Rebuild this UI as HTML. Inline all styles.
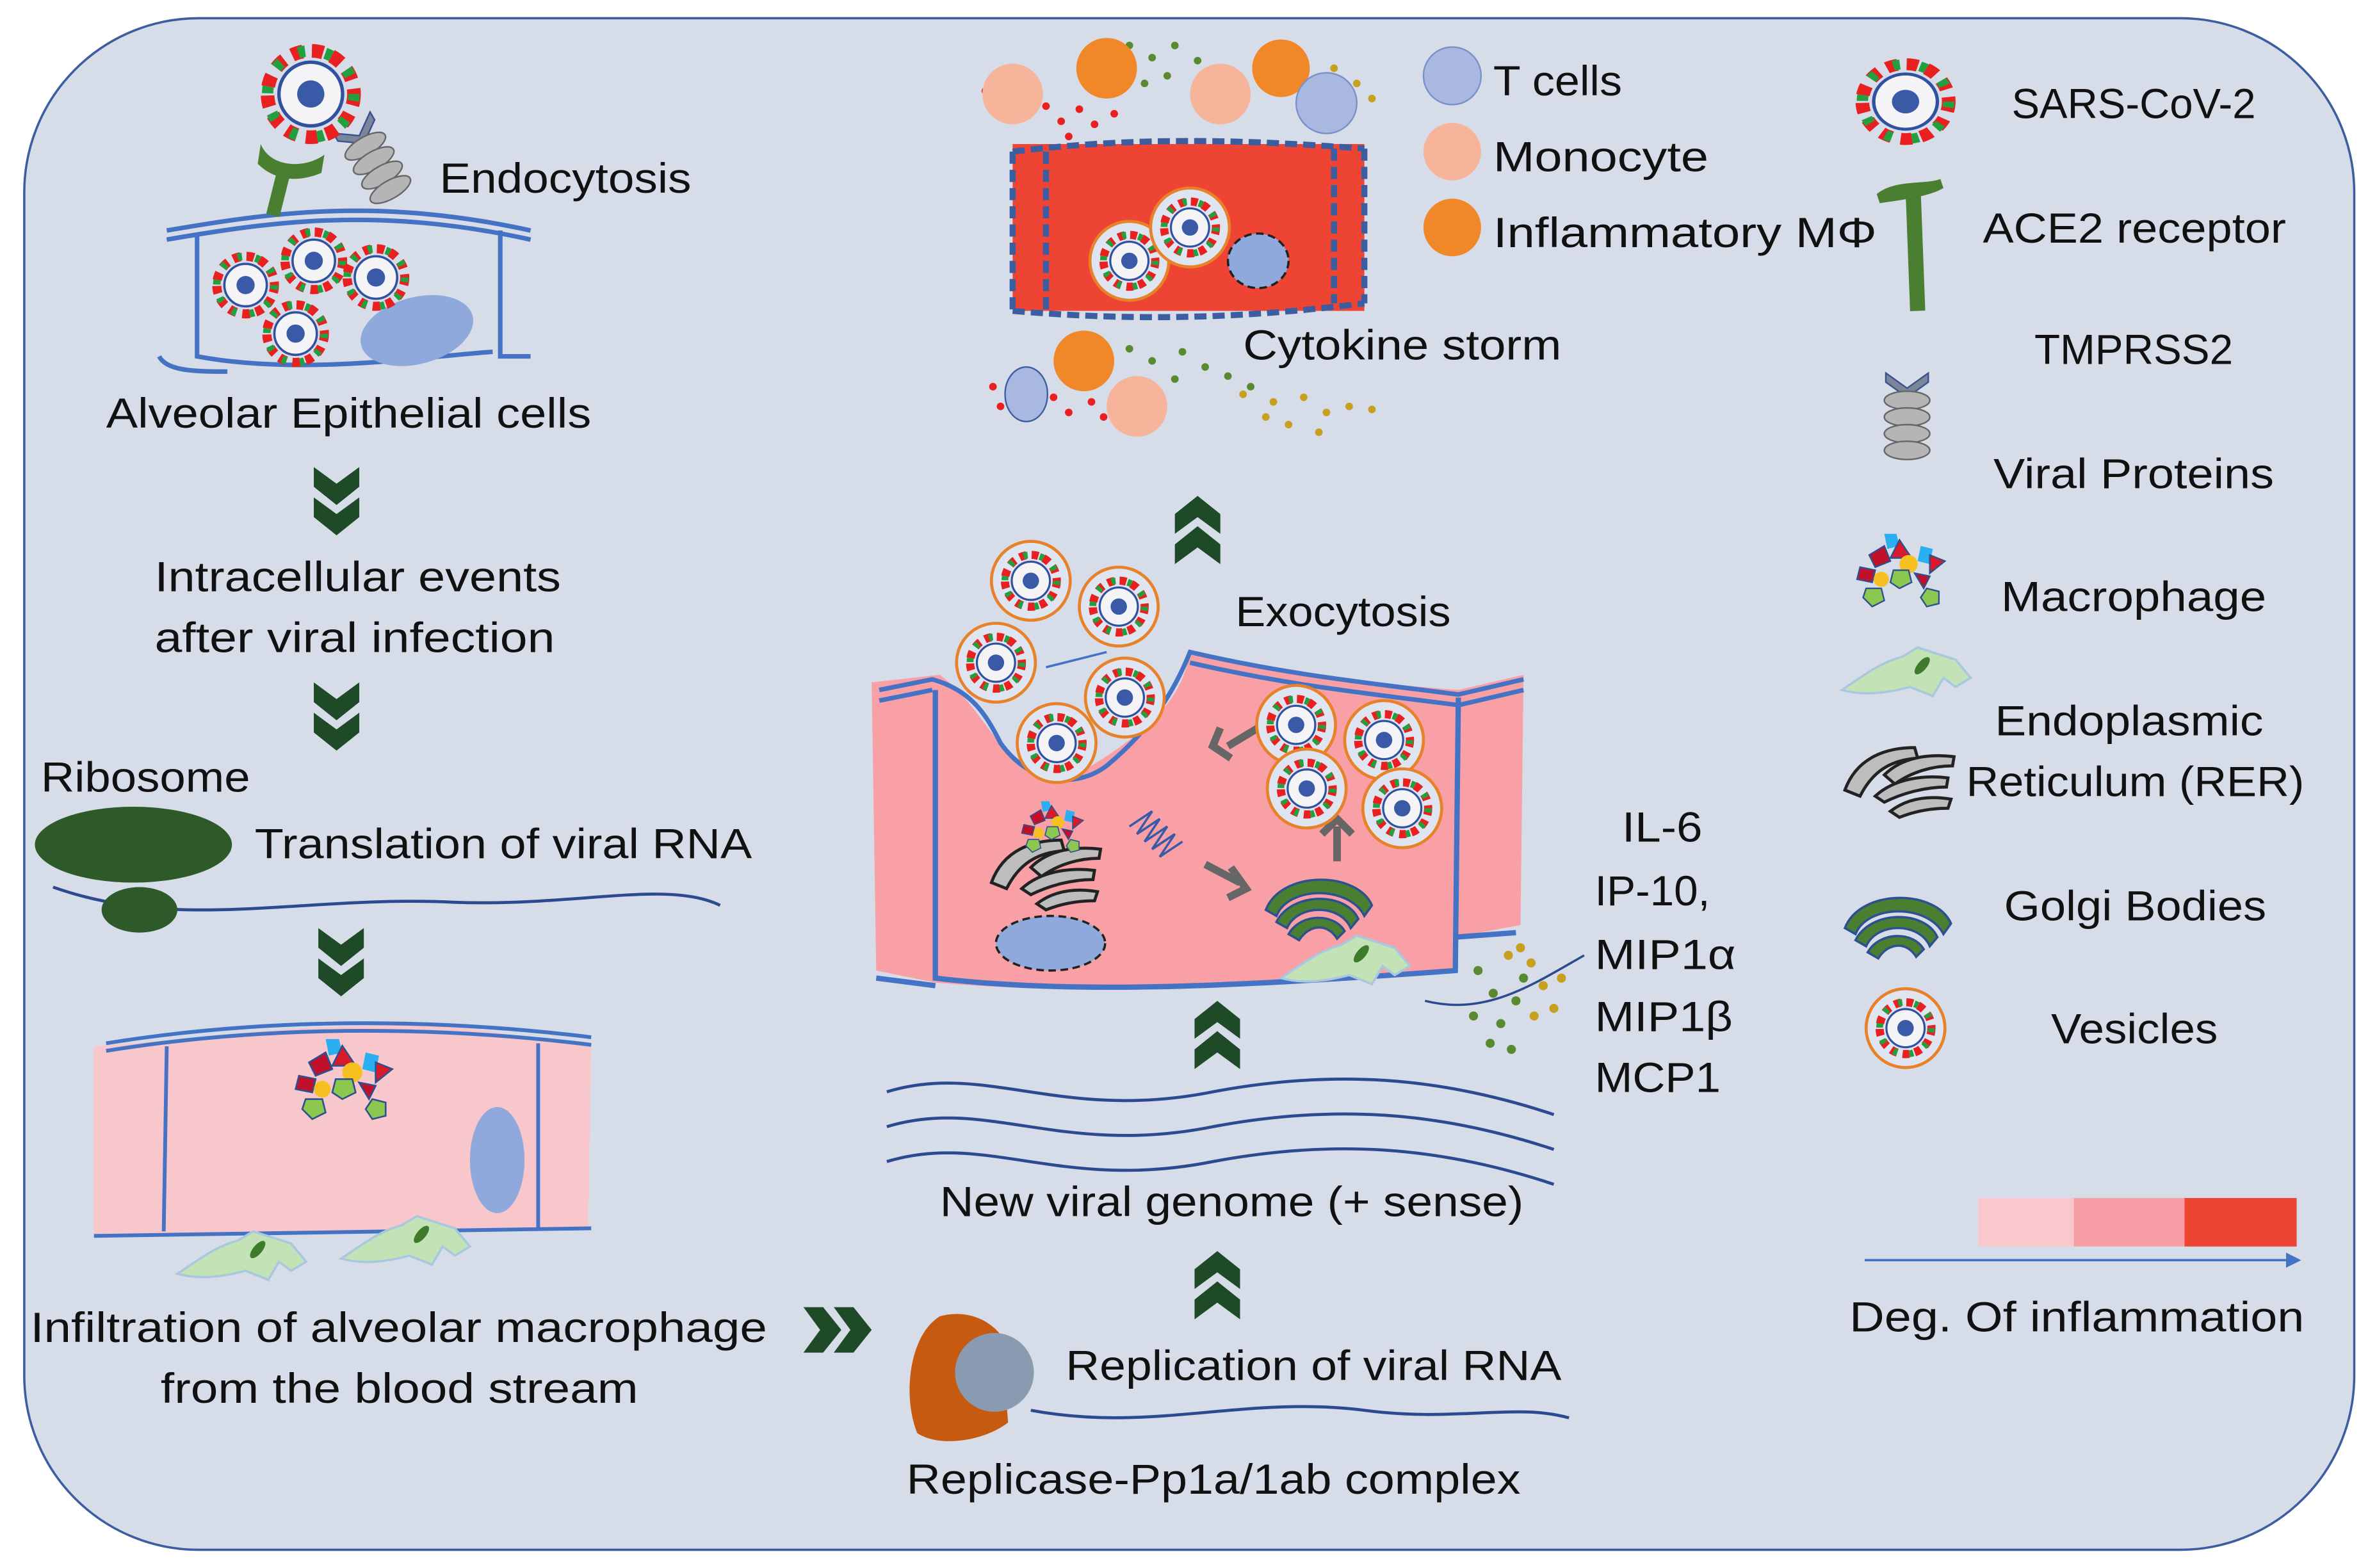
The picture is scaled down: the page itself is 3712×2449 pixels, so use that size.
<!DOCTYPE html>
<html><head><meta charset="utf-8"><style>
html,body{margin:0;padding:0;background:#fff;}
svg{display:block;}
text{font-family:"Liberation Sans",sans-serif;font-size:28px;fill:#111;}
</style></head><body>
<svg width="3712" height="2449" viewBox="0 0 1568 1034" preserveAspectRatio="none" xmlns="http://www.w3.org/2000/svg">
<defs>
<g id="vir">
<circle r="19" fill="none" stroke="#e82020" stroke-width="6" stroke-dasharray="5 4"/>
<circle r="19" fill="none" stroke="#22a040" stroke-width="5" stroke-dasharray="3 9"/>
<circle r="14" fill="#f4f4f6" stroke="#3050a0" stroke-width="1.5"/>
<circle r="6" fill="#3a5aa8"/>
</g>
<g id="ves">
<circle r="26" fill="#dfe5f0" stroke="#e8822a" stroke-width="2"/>
<use href="#vir" transform="scale(0.9)"/>
</g>
<g id="chev">
<path d="M-15,0 L0,11 L15,0 L15,13 L0,25 L-15,13 Z M-15,20 L0,31 L15,20 L15,33 L0,45 L-15,33 Z" fill="#1e4a28"/>
</g>
<g id="mac">
<path d="M-45,10 C-30,0 -20,-8 -5,-12 L5,-18 L30,-10 L40,2 L30,8 L22,2 L15,14 L0,8 C-15,12 -30,14 -45,10 Z" fill="#c3e2b5" stroke="#a9c8e0" stroke-width="1.5"/>
<ellipse cx="8" cy="-6" rx="3" ry="7" transform="rotate(40 8 -6)" fill="#3f7a2d"/>
</g>
<g id="golgi" fill="#4a7f32" stroke="#2d5090" stroke-width="1.5">
<path d="M-35,8 C-25,-18 25,-18 35,5 L30,12 C20,-8 -20,-8 -28,12 Z"/>
<path d="M-28,16 C-18,-4 18,-4 26,14 L21,20 C14,4 -14,4 -21,20 Z"/>
<path d="M-20,24 C-12,10 10,10 17,22 L12,27 C6,17 -6,17 -13,28 Z"/>
</g>
<g id="er" fill="#bdbdbd" stroke="#222" stroke-width="2">
<path d="M-38,14 C-30,-8 -10,-14 8,-14 L10,-7 C-8,-6 -20,2 -28,18 Z"/>
<path d="M-12,4 C0,-8 18,-10 34,-8 L33,-2 C20,-2 6,2 -5,10 Z"/>
<path d="M-18,18 C-5,6 15,4 30,6 L29,12 C15,12 0,16 -12,22 Z"/>
<path d="M-8,28 C5,18 20,18 32,20 L30,26 C18,26 8,28 -2,32 Z"/>
</g>
<g id="prot">
<polygon points="-12,-28 -4,-28 -2,-20 -10,-18" fill="#2ab0f0"/>
<polygon points="-22,-14 -12,-20 -8,-10 -18,-6" fill="#c0102a" stroke="#2d5090"/>
<polygon points="-2,-24 6,-12 -8,-12" fill="#d81a2a" stroke="#2d5090"/>
<circle cx="4" cy="-8" r="6" fill="#f5c020"/>
<polygon points="12,-20 20,-18 18,-8 10,-10" fill="#2ab0f0"/>
<polygon points="18,-14 28,-10 18,-2" fill="#d81a2a" stroke="#2d5090"/>
<polygon points="-28,-6 -18,-4 -20,4 -30,2" fill="#c0102a" stroke="#2d5090"/>
<circle cx="-14" cy="2" r="5" fill="#f5c020"/>
<polygon points="-6,-4 4,-4 6,4 -2,8 -8,4" fill="#8cc850" stroke="#2d5090"/>
<polygon points="8,-2 18,0 14,8" fill="#c0102a" stroke="#2d5090"/>
<polygon points="-24,8 -14,8 -12,16 -20,20 -26,14" fill="#8cc850" stroke="#2d5090"/>
<polygon points="16,8 24,10 24,18 16,20 12,14" fill="#8cc850" stroke="#2d5090"/>
</g>
<g id="tmp">
<path d="M-14,-36 L0,-26 L14,-36 L14,-30 L0,-20 L-14,-30Z" fill="#7a8699" stroke="#3a5090" stroke-width="1"/>
<ellipse cx="0" cy="-18" rx="15" ry="6" fill="#b5b5b5" stroke="#666"/>
<ellipse cx="0" cy="-7" rx="15" ry="6" fill="#b5b5b5" stroke="#666"/>
<ellipse cx="0" cy="4" rx="15" ry="6" fill="#b5b5b5" stroke="#666"/>
<ellipse cx="0" cy="15" rx="15" ry="6" fill="#b5b5b5" stroke="#666"/>
</g>
</defs>

<rect x="16" y="12" width="1537" height="1010" rx="115" ry="115" fill="#d6dde8" stroke="#3c5da0" stroke-width="1.5"/>

<!-- top-left cell -->
<path d="M110,152 C180,140 250,130 350,152 M110,158 C180,146 250,136 350,158" stroke="#4472c4" stroke-width="3" fill="none"/>
<path d="M130,155 L130,235 C200,248 280,235 325,232 M330,152 L330,235 L350,235 M105,235 C110,245 130,245 150,245" stroke="#4472c4" stroke-width="3" fill="none"/>
<ellipse cx="275" cy="218" rx="38" ry="22" transform="rotate(-15 275 218)" fill="#8fa9dc"/>
<use href="#vir" x="162" y="188"/><use href="#vir" x="207" y="172"/><use href="#vir" x="248" y="183"/><use href="#vir" x="195" y="220"/>
<path d="M180,142 L188,110" stroke="#4a7f32" stroke-width="9"/>
<path d="M172,95 C178,110 200,112 214,102 L212,114 C198,120 182,120 170,108 Z" fill="#4a7f32"/>
<g transform="translate(250,112) rotate(-30)"><use href="#tmp"/></g>
<g transform="translate(205,62) scale(1.5)"><use href="#vir"/></g>
<text x="290" y="127" textLength="166" lengthAdjust="spacingAndGlyphs">Endocytosis</text>
<text x="70" y="282" textLength="320" lengthAdjust="spacingAndGlyphs">Alveolar Epithelial cells</text>
<use href="#chev" x="222" y="308"/>
<text x="102" y="390" textLength="268" lengthAdjust="spacingAndGlyphs">Intracellular events</text>
<text x="102" y="430" textLength="264" lengthAdjust="spacingAndGlyphs">after viral infection</text>
<use href="#chev" x="222" y="450"/>
<text x="27" y="522" textLength="138" lengthAdjust="spacingAndGlyphs">Ribosome</text>
<path d="M35,585 C120,615 200,590 300,595 C380,598 440,580 475,597" stroke="#2d4a90" stroke-width="2" fill="none"/>
<ellipse cx="92" cy="600" rx="25" ry="15" fill="#2e5a2a"/>
<ellipse cx="88" cy="557" rx="65" ry="25" fill="#2e5a2a"/>
<text x="168" y="566" textLength="328" lengthAdjust="spacingAndGlyphs">Translation of viral RNA</text>
<use href="#chev" x="225" y="612"/>

<!-- cell 2 -->
<path d="M62,690 L110,686 C200,676 300,670 350,686 L390,688 L388,810 L62,815 Z" fill="#f7c7cb"/>
<path d="M70,688 C150,675 260,668 390,684 M70,693 C150,680 260,673 390,689 M110,690 L108,812 M355,688 L355,810 M62,815 L390,810" stroke="#4472c4" stroke-width="2.5" fill="none"/>
<ellipse cx="328" cy="765" rx="18" ry="35" fill="#8fa9dc"/>
<g transform="translate(228,716) scale(1.1)"><use href="#prot"/></g>
<use href="#mac" x="162" y="830"/><use href="#mac" x="270" y="820"/>
<text x="20" y="885" textLength="486" lengthAdjust="spacingAndGlyphs">Infiltration of alveolar macrophage</text>
<text x="106" y="925" textLength="315" lengthAdjust="spacingAndGlyphs">from the blood stream</text>
<g transform="translate(552,877) rotate(-90)"><use href="#chev" y="-22"/></g>

<!-- replicase -->
<path d="M680,930 C760,945 820,920 900,930 C960,938 1000,925 1035,935" stroke="#2d4a90" stroke-width="2" fill="none"/>
<path d="M620,868 C600,880 595,920 605,945 C620,955 650,950 665,938 L660,880 C650,868 635,864 620,868Z" fill="#c65a10"/>
<circle cx="656" cy="905" r="26" fill="#8a9ab0"/>
<text x="703" y="910" textLength="327" lengthAdjust="spacingAndGlyphs">Replication of viral RNA</text>
<text x="598" y="985" textLength="405" lengthAdjust="spacingAndGlyphs">Replicase-Pp1a/1ab complex</text>
<g transform="translate(803,870) scale(1,-1)"><use href="#chev"/></g>
<text x="620" y="802" textLength="385" lengthAdjust="spacingAndGlyphs">New viral genome (+ sense)</text>
<path d="M585,720 C650,700 700,740 800,720 C880,705 950,710 1025,735" stroke="#2d4a90" stroke-width="2" fill="none"/>
<path d="M585,743 C650,723 700,763 800,743 C880,728 950,733 1025,758" stroke="#2d4a90" stroke-width="2" fill="none"/>
<path d="M585,766 C650,746 700,786 800,766 C880,751 950,756 1025,781" stroke="#2d4a90" stroke-width="2" fill="none"/>
<g transform="translate(803,705) scale(1,-1)"><use href="#chev"/></g>

<!-- cell 3 -->
<path d="M575,450 L620,445 C640,460 650,480 660,490 C680,510 700,520 720,505 C760,480 780,460 785,430 C850,445 900,450 962,455 L1005,445 L1003,610 L960,618 L958,640 C800,655 700,655 617,648 L578,640 Z" fill="#f8a0a6"/>
<path d="M580,455 L615,448 C640,455 650,470 660,490 C680,518 710,520 730,505 C760,480 775,455 785,430 C850,445 900,450 962,458 L1005,448" stroke="#4472c4" stroke-width="3" fill="none"/>
<path d="M580,462 L615,455 M785,437 C850,452 900,457 962,465 L1005,455" stroke="#4472c4" stroke-width="3" fill="none"/>
<path d="M617,455 L617,645 C700,655 800,652 960,640 L962,460 M960,618 L1000,615 M578,645 L617,650" stroke="#4472c4" stroke-width="3.5" fill="none"/>
<ellipse cx="693" cy="622" rx="36" ry="18" fill="#8fa9dc" stroke="#222" stroke-width="1.5" stroke-dasharray="5 3"/>
<use href="#er" x="692" y="568"/>
<g transform="translate(695,548) scale(0.7)"><use href="#prot"/></g>
<path d="M745,545 l15,-10 l-10,15 l15,-10 l-10,15 l15,-10 l-10,15 M755,555 l15,-10 l-10,15 l15,-10 l-10,15 l15,-10" stroke="#3a5aa8" stroke-width="1.5" fill="none"/>
<path d="M795,570 L818,582 M812,572 L822,586 L810,592" stroke="#666" stroke-width="5" fill="none"/>
<path d="M882,568 L882,545 M872,550 L882,540 L892,550" stroke="#666" stroke-width="5" fill="none"/>
<path d="M830,480 L810,492 M805,480 L800,492 L812,500" stroke="#666" stroke-width="5" fill="none"/>
<use href="#golgi" x="870" y="592"/>
<use href="#mac" x="890" y="635"/>
<use href="#ves" x="855" y="478"/><use href="#ves" x="913" y="488"/><use href="#ves" x="862" y="520"/><use href="#ves" x="925" y="533"/>
<use href="#ves" x="680" y="383"/><use href="#ves" x="738" y="400"/><use href="#ves" x="657" y="437"/><use href="#ves" x="742" y="460"/><use href="#ves" x="697" y="490"/>
<path d="M690,440 L730,430" stroke="#4472c4" stroke-width="1.5"/>
<text x="815" y="413" textLength="142" lengthAdjust="spacingAndGlyphs">Exocytosis</text>
<g transform="translate(790,372) scale(1,-1)"><use href="#chev"/></g>
<!-- cytokines near cell -->
<path d="M940,660 C980,670 1010,650 1045,630" stroke="#2d4a90" stroke-width="1.5" fill="none"/>
<g fill="#5a8a30"><circle cx="975" cy="640" r="3"/><circle cx="985" cy="655" r="3"/><circle cx="972" cy="670" r="3"/><circle cx="990" cy="675" r="3"/><circle cx="1000" cy="660" r="3"/><circle cx="983" cy="688" r="3"/><circle cx="997" cy="692" r="3"/><circle cx="1005" cy="645" r="3"/></g>
<g fill="#c8a020"><circle cx="995" cy="630" r="3"/><circle cx="1010" cy="635" r="3"/><circle cx="1018" cy="650" r="3"/><circle cx="1025" cy="665" r="3"/><circle cx="1012" cy="670" r="3"/><circle cx="1030" cy="645" r="3"/><circle cx="1003" cy="625" r="3"/></g>
<text x="1070" y="555" textLength="53" lengthAdjust="spacingAndGlyphs">IL-6</text>
<text x="1052" y="597" textLength="76" lengthAdjust="spacingAndGlyphs">IP-10,</text>
<text x="1052" y="639" textLength="93" lengthAdjust="spacingAndGlyphs">MIP1α</text>
<text x="1052" y="680" textLength="91" lengthAdjust="spacingAndGlyphs">MIP1β</text>
<text x="1052" y="720" textLength="83" lengthAdjust="spacingAndGlyphs">MCP1</text>

<!-- cytokine storm -->
<rect x="668" y="95" width="232" height="110" fill="#ee4433"/>
<path d="M668,100 C750,90 820,92 900,98 M668,205 C750,212 820,210 900,200 M668,100 L668,205 M900,98 L900,200 M690,100 L690,205 M880,98 L880,200" stroke="#3c5da0" stroke-width="4" stroke-dasharray="8 4" fill="none"/>
<use href="#ves" x="745" y="172"/><use href="#ves" x="785" y="150"/>
<ellipse cx="830" cy="172" rx="20" ry="18" fill="#8fa9dc" stroke="#222" stroke-width="1.5" stroke-dasharray="5 3"/>
<g fill="#e82020"><circle cx="650" cy="60" r="2.5"/><circle cx="690" cy="70" r="2.5"/><circle cx="700" cy="80" r="2.5"/><circle cx="712" cy="72" r="2.5"/><circle cx="722" cy="82" r="2.5"/><circle cx="705" cy="90" r="2.5"/><circle cx="735" cy="75" r="2.5"/><circle cx="655" cy="255" r="2.5"/><circle cx="695" cy="262" r="2.5"/><circle cx="705" cy="272" r="2.5"/><circle cx="720" cy="265" r="2.5"/><circle cx="728" cy="275" r="2.5"/><circle cx="660" cy="268" r="2.5"/></g>
<g fill="#5a8a30"><circle cx="745" cy="30" r="2.5"/><circle cx="760" cy="38" r="2.5"/><circle cx="775" cy="30" r="2.5"/><circle cx="790" cy="40" r="2.5"/><circle cx="770" cy="50" r="2.5"/><circle cx="755" cy="55" r="2.5"/><circle cx="745" cy="230" r="2.5"/><circle cx="760" cy="238" r="2.5"/><circle cx="780" cy="232" r="2.5"/><circle cx="795" cy="242" r="2.5"/><circle cx="810" cy="248" r="2.5"/><circle cx="775" cy="250" r="2.5"/><circle cx="825" cy="255" r="2.5"/></g>
<g fill="#c8a020"><circle cx="880" cy="45" r="2.5"/><circle cx="895" cy="55" r="2.5"/><circle cx="905" cy="65" r="2.5"/><circle cx="820" cy="260" r="2.5"/><circle cx="840" cy="265" r="2.5"/><circle cx="860" cy="262" r="2.5"/><circle cx="875" cy="272" r="2.5"/><circle cx="890" cy="268" r="2.5"/><circle cx="905" cy="270" r="2.5"/><circle cx="850" cy="280" r="2.5"/><circle cx="870" cy="285" r="2.5"/><circle cx="835" cy="275" r="2.5"/></g>
<circle cx="668" cy="62" r="20" fill="#f6b49a"/><circle cx="730" cy="45" r="20" fill="#f0882a"/>
<circle cx="805" cy="62" r="20" fill="#f6b49a"/><circle cx="845" cy="45" r="19" fill="#f0882a"/>
<circle cx="875" cy="68" r="20" fill="#a9b8e0" stroke="#7a90c8"/>
<ellipse cx="677" cy="260" rx="14" ry="18" fill="#a9b8e0" stroke="#3c5da0"/><circle cx="715" cy="238" r="20" fill="#f0882a"/><circle cx="750" cy="268" r="20" fill="#f6b49a"/>
<text x="820" y="237" textLength="210" lengthAdjust="spacingAndGlyphs">Cytokine storm</text>
<circle cx="958" cy="50" r="19" fill="#a9b8e0" stroke="#7a90c8"/>
<circle cx="958" cy="100" r="19" fill="#f6b49a"/>
<circle cx="958" cy="150" r="19" fill="#f0882a"/>
<text x="985" y="63" textLength="85" lengthAdjust="spacingAndGlyphs">T cells</text>
<text x="985" y="113" textLength="142" lengthAdjust="spacingAndGlyphs">Monocyte</text>
<text x="985" y="163" textLength="253" lengthAdjust="spacingAndGlyphs">Inflammatory MΦ</text>

<!-- legend -->
<g transform="translate(1257,67) scale(1.5,1.3)"><use href="#vir"/></g>
<text x="1327" y="78" textLength="161" lengthAdjust="spacingAndGlyphs">SARS-CoV-2</text>
<path d="M1262,125 L1265,205" stroke="#4a7f32" stroke-width="10"/>
<path d="M1238,128 C1250,118 1270,122 1280,118 L1282,124 C1272,130 1252,132 1240,134 Z" fill="#4a7f32"/>
<text x="1308" y="160" textLength="200" lengthAdjust="spacingAndGlyphs">ACE2 receptor</text>
<text x="1342" y="240" textLength="131" lengthAdjust="spacingAndGlyphs">TMPRSS2</text>
<use href="#tmp" x="1258" y="282"/>
<text x="1315" y="322" textLength="185" lengthAdjust="spacingAndGlyphs">Viral Proteins</text>
<use href="#prot" x="1255" y="380"/>
<text x="1320" y="403" textLength="175" lengthAdjust="spacingAndGlyphs">Macrophage</text>
<use href="#mac" x="1260" y="445"/>
<text x="1316" y="485" textLength="177" lengthAdjust="spacingAndGlyphs">Endoplasmic</text>
<text x="1297" y="525" textLength="223" lengthAdjust="spacingAndGlyphs">Reticulum (RER)</text>
<use href="#er" x="1255" y="507"/>
<use href="#golgi" x="1252" y="604"/>
<text x="1322" y="607" textLength="173" lengthAdjust="spacingAndGlyphs">Golgi Bodies</text>
<use href="#ves" x="1257" y="678"/>
<text x="1353" y="688" textLength="110" lengthAdjust="spacingAndGlyphs">Vesicles</text>
<rect x="1305" y="790" width="63" height="32" fill="#f8c8cc"/>
<rect x="1368" y="790" width="73" height="32" fill="#f79ea6"/>
<rect x="1441" y="790" width="74" height="32" fill="#ee4433"/>
<path d="M1230,831 L1510,831" stroke="#4472c4" stroke-width="1.5"/>
<path d="M1508,826 L1518,831 L1508,836 Z" fill="#4472c4"/>
<text x="1220" y="878" textLength="300" lengthAdjust="spacingAndGlyphs">Deg. Of inflammation</text>
</svg>
</body></html>
